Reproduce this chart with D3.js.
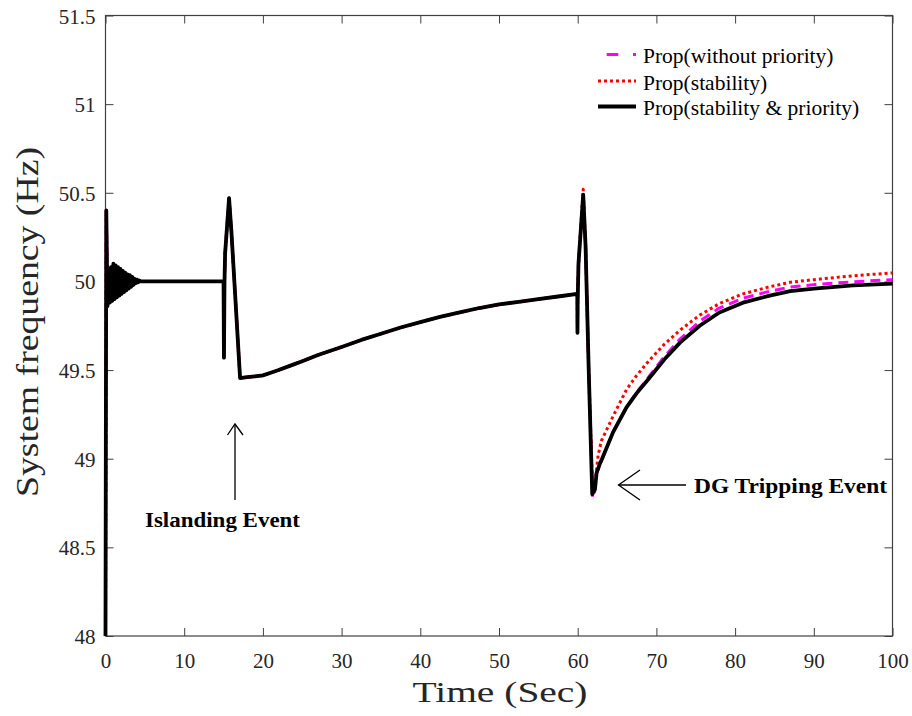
<!DOCTYPE html>
<html>
<head>
<meta charset="utf-8">
<script src="https://cdn.jsdelivr.net/npm/d3@7"></script>
<style>
  body { margin: 0; background: #fff; }
  svg { display: block; font-family: "Liberation Serif", "Times New Roman", serif; }
</style>
</head>
<body>
<script>
// data: [time (s), frequency (Hz)]
// common part of all three runs (start-up, islanding, DG trip peak)
const baseCurve = [
  [0, 48], [0.1, 50.40], [0.25, 49.86], [0.4, 50.06], [0.55, 49.88], [0.7, 50.08],
  [0.85, 49.89], [1.0, 50.10], [1.15, 49.90], [1.3, 50.09], [1.45, 49.91], [1.6, 50.08],
  [1.75, 49.92], [1.9, 50.07], [2.05, 49.93], [2.2, 50.06], [2.35, 49.94], [2.5, 50.05],
  [2.65, 49.95], [2.8, 50.04], [2.95, 49.96], [3.1, 50.035], [3.25, 49.97], [3.4, 50.025],
  [3.55, 49.98], [3.7, 50.015], [3.85, 49.99], [4.0, 50.01], [4.15, 49.995], [4.3, 50.005],
  [4.5, 50.0], [15.0, 50.0], [15.05, 49.57], [15.12, 50.0], [15.2, 50.16], [15.7, 50.47],
  [16.0, 50.28], [17.1, 49.455], [18, 49.46], [19, 49.465], [20, 49.47], [21, 49.485],
  [22, 49.50], [23.5, 49.525], [25, 49.55], [27, 49.585], [30, 49.63], [32.5, 49.67],
  [35, 49.705], [37.5, 49.74], [40, 49.77], [42.5, 49.80], [45, 49.825], [47.5, 49.85],
  [50, 49.87], [52.5, 49.885], [55, 49.90], [57.5, 49.915], [59.95, 49.93], [59.97, 49.71],
  [60.0, 49.90], [60.1, 50.1], [60.7, 50.49], [61.0, 50.2], [61.4, 49.5]
];
// tails after the DG trip, one per strategy
const tailPriority = [
  [61.85, 48.80], [62.2, 48.83], [62.4, 48.92], [62.8, 48.97], [63.1, 49.0], [64.5, 49.15],
  [66.2, 49.29], [67.5, 49.37], [69, 49.45], [71, 49.56], [73, 49.655], [75.5, 49.75],
  [78, 49.825], [81, 49.88], [84.4, 49.92], [87, 49.945], [90, 49.96], [95, 49.978],
  [100, 49.988]
];
const tailStability = [
  [60.7, 50.52], [61.0, 50.2], [61.4, 49.5], [61.9, 48.80], [62.3, 48.9], [62.6, 49.02],
  [63.0, 49.10], [64.5, 49.24], [66.2, 49.39], [67.5, 49.47], [69, 49.55], [71, 49.645],
  [73, 49.725], [75.5, 49.81], [78, 49.875], [81, 49.93], [84.4, 49.97], [87, 49.995],
  [90, 50.01], [95, 50.032], [100, 50.048]
];
const tailWithout = [
  [61.9, 48.78], [62.2, 48.82], [62.4, 48.92], [62.8, 48.96], [63.1, 49.0], [64.5, 49.15],
  [66.2, 49.29], [67.5, 49.375], [69, 49.46], [71, 49.575], [73, 49.675], [75.5, 49.775],
  [78, 49.85], [81, 49.905], [84.4, 49.945], [87, 49.968], [90, 49.982], [95, 49.998],
  [100, 50.01]
];

const seriesNames = ["Prop(without priority)", "Prop(stability)", "Prop(stability & priority)"];
const seriesColors = ["#ff00ff", "#ff0000", "#000000"];
const xTicks = [0, 10, 20, 30, 40, 50, 60, 70, 80, 90, 100];
const yTicks = [48, 48.5, 49, 49.5, 50, 50.5, 51, 51.5];

const width = 912, height = 716;
const plotLeft = 105.5, plotRight = 892.5, plotTop = 15.5, plotBottom = 636;
const axisColor = "#404040";
const serif = "'Liberation Serif', 'Times New Roman', serif";

const svg = d3.select("body").append("svg")
  .attr("width", width).attr("height", height);

const x = d3.scaleLinear().domain([0, 100]).range([plotLeft, plotRight]);
const y = d3.scaleLinear().domain([48, 51.5]).range([plotBottom, plotTop]);

// axes (ticks inside, MATLAB style)
const styleAxis = (g) => {
  g.attr("font-family", serif);
  g.select(".domain").remove();
  g.selectAll("line").attr("stroke", axisColor).attr("stroke-width", 1);
};

svg.append("g").attr("transform", `translate(0,${plotBottom})`)
  .call(d3.axisBottom(x).tickValues(xTicks).tickSize(-8).tickFormat(d3.format("d")))
  .call(styleAxis)
  .call((g) => g.selectAll("text").attr("y", 32).attr("dy", 0)
    .attr("fill", "#262626").style("font-size", "21px"));

svg.append("g").attr("transform", `translate(0,${plotTop})`)
  .call(d3.axisTop(x).tickValues(xTicks).tickSize(-8).tickFormat(""))
  .call(styleAxis);

svg.append("g").attr("transform", `translate(${plotLeft},0)`)
  .call(d3.axisLeft(y).tickValues(yTicks).tickSize(-8).tickFormat((d) => d))
  .call(styleAxis)
  .call((g) => g.selectAll("text").attr("x", -10).attr("dy", 7.5)
    .attr("fill", "#262626").style("font-size", "21px"));

svg.append("g").attr("transform", `translate(${plotRight},0)`)
  .call(d3.axisRight(y).tickValues(yTicks).tickSize(-8).tickFormat(""))
  .call(styleAxis);

svg.append("rect")
  .attr("x", plotLeft).attr("y", plotTop)
  .attr("width", plotRight - plotLeft).attr("height", plotBottom - plotTop)
  .attr("fill", "none").attr("stroke", axisColor).attr("stroke-width", 1.2);

// lines
const line = d3.line().x((d) => x(d[0])).y((d) => y(d[1]));
const baseBefore = (t) => baseCurve.filter((d) => d[0] < t);

const curves = [
  { data: baseBefore(61.5).concat(tailWithout), color: seriesColors[0], width: 3, dash: "10,6" },
  { data: baseBefore(60.7).concat(tailStability), color: seriesColors[1], width: 3, dash: "3,3" },
  { data: baseCurve.concat(tailPriority), color: seriesColors[2], width: 3.8, dash: null }
];

svg.append("g").selectAll("path")
  .data(curves)
  .join("path")
  .attr("d", (d) => line(d.data))
  .attr("fill", "none")
  .attr("stroke", (d) => d.color)
  .attr("stroke-width", (d) => d.width)
  .attr("stroke-dasharray", (d) => d.dash)
  .attr("stroke-linejoin", "round");

// legend
const legendY = [54.5, 81, 106.5];
const legendDash = ["11.6,14.7", "3,3", null];
const legend = svg.append("g");
legend.selectAll("line")
  .data(seriesNames)
  .join("line")
  .attr("x1", 598).attr("x2", 636)
  .attr("y1", (d, i) => legendY[i]).attr("y2", (d, i) => legendY[i])
  .attr("stroke", (d, i) => seriesColors[i])
  .attr("stroke-width", (d, i) => (i === 2 ? 3.8 : 3))
  .attr("stroke-dasharray", (d, i) => legendDash[i])
  .attr("stroke-dashoffset", (d, i) => (i === 0 ? 17.6 : 0));
legend.selectAll("text")
  .data(seriesNames)
  .join("text")
  .attr("x", 643)
  .attr("y", (d, i) => legendY[i] + 8.5)
  .style("font-size", "21.5px")
  .attr("fill", "#000")
  .text((d) => d);

// axis labels
svg.append("text")
  .attr("x", (plotLeft + plotRight) / 2 + 1).attr("y", 702)
  .attr("text-anchor", "middle")
  .attr("textLength", 175).attr("lengthAdjust", "spacingAndGlyphs")
  .style("font-size", "30px").attr("fill", "#262626")
  .text("Time (Sec)");

svg.append("text")
  .attr("transform", `translate(37.5,322) rotate(-90)`)
  .attr("text-anchor", "middle")
  .attr("textLength", 350).attr("lengthAdjust", "spacingAndGlyphs")
  .style("font-size", "32px").attr("fill", "#262626")
  .text("System frequency (Hz)");

// annotations
const ann = svg.append("g").attr("stroke", "#000").attr("stroke-width", 1.3).attr("fill", "none");
ann.append("line").attr("x1", 235).attr("y1", 424).attr("x2", 235).attr("y2", 500);
ann.append("polyline").attr("points", "227.5,435 235,424 243,435");
ann.append("line").attr("x1", 618.5).attr("y1", 485).attr("x2", 686).attr("y2", 485);
ann.append("polyline").attr("points", "640,470 618.5,485 640,500");

svg.append("text")
  .attr("x", 145).attr("y", 527)
  .attr("textLength", 155).attr("lengthAdjust", "spacingAndGlyphs")
  .style("font-size", "20px").style("font-weight", "bold")
  .text("Islanding Event");

svg.append("text")
  .attr("x", 694).attr("y", 493)
  .attr("textLength", 193).attr("lengthAdjust", "spacingAndGlyphs")
  .style("font-size", "20px").style("font-weight", "bold")
  .text("DG Tripping Event");
</script>
</body>
</html>
